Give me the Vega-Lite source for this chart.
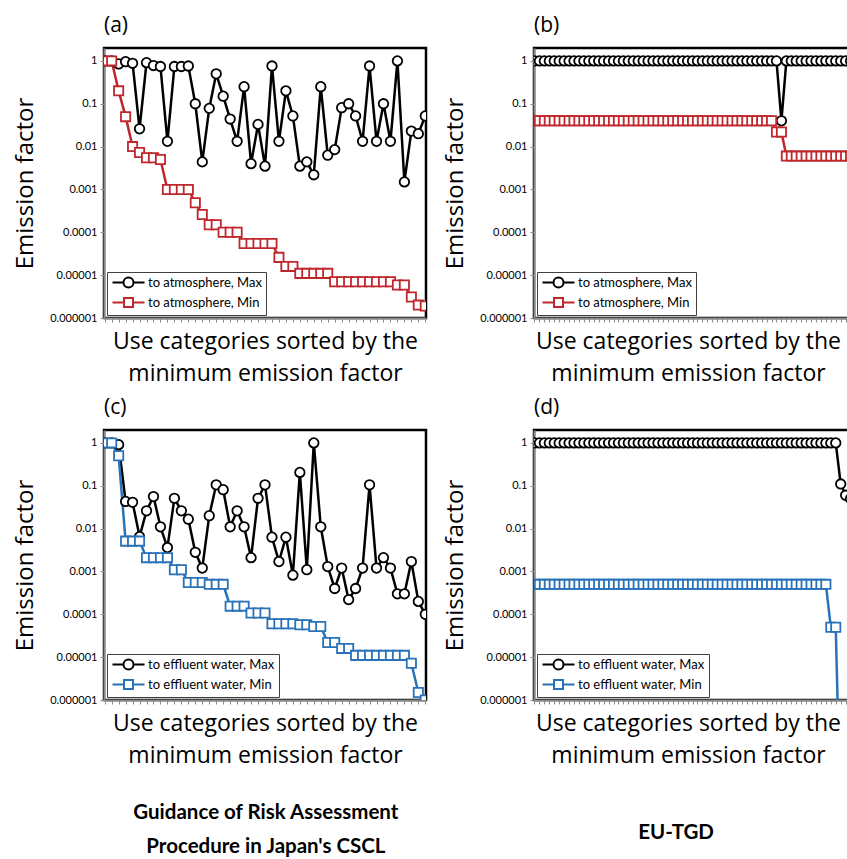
{
  "$schema": "https://vega.github.io/schema/vega-lite/v6.json",
  "padding": {"left": 12, "top": 13, "right": 0, "bottom": 6},
  "background": "white",
  "config": {
    "font": "Open Sans",
    "view": {"stroke": "black", "strokeWidth": 2.5},
    "axis": {"grid": false, "domainColor": "#8a8a8a", "domainWidth": 2, "tickColor": "#8a8a8a", "tickWidth": 1, "tickSize": 4, "labelColor": "black", "titleColor": "black", "labelFont": "Lato", "titleFont": "Open Sans", "titleFontWeight": "normal"},
    "axisX": {"labels": false, "titleFontSize": 23, "titleLineHeight": 32, "titlePadding": 8},
    "axisY": {"titleFontSize": 24, "labelFontSize": 11, "titlePadding": 12, "labelPadding": 3},
    "title": {"fontSize": 21, "fontWeight": "normal", "anchor": "start", "frame": "group", "offset": 12.5, "color": "black", "font": "Open Sans"},
    "legend": {"title": null, "orient": "bottom-left", "offset": 3, "padding": 4, "strokeColor": "#404040", "fillColor": "white", "labelFontSize": 13, "labelFont": "Lato", "labelColor": "black", "symbolSize": 100, "symbolStrokeWidth": 2, "labelOffset": 24, "rowPadding": 2}
  },
  "datasets": {
    "a": [
      {"i":1,"Max":1,"Min":1},{"i":2,"Max":1,"Min":1},{"i":3,"Max":0.85,"Min":0.2},{"i":4,"Max":0.96,"Min":0.05},{"i":5,"Max":0.88,"Min":0.01},
      {"i":6,"Max":0.026,"Min":0.0073},{"i":7,"Max":0.91,"Min":0.0055},{"i":8,"Max":0.78,"Min":0.0055},{"i":9,"Max":0.74,"Min":0.005},{"i":10,"Max":0.0133,"Min":0.001},
      {"i":11,"Max":0.74,"Min":0.001},{"i":12,"Max":0.74,"Min":0.001},{"i":13,"Max":0.76,"Min":0.001},{"i":14,"Max":0.1,"Min":0.00049},{"i":15,"Max":0.0044,"Min":0.00026},
      {"i":16,"Max":0.078,"Min":0.00015},{"i":17,"Max":0.5,"Min":0.00015},{"i":18,"Max":0.15,"Min":0.0001},{"i":19,"Max":0.044,"Min":0.0001},{"i":20,"Max":0.0133,"Min":0.0001},
      {"i":21,"Max":0.25,"Min":0.000055},{"i":22,"Max":0.004,"Min":0.000055},{"i":23,"Max":0.033,"Min":0.000055},{"i":24,"Max":0.0035,"Min":0.000055},{"i":25,"Max":0.76,"Min":0.000055},
      {"i":26,"Max":0.0133,"Min":0.000026},{"i":27,"Max":0.2,"Min":0.000016},{"i":28,"Max":0.052,"Min":0.000016},{"i":29,"Max":0.0035,"Min":0.000011},{"i":30,"Max":0.0044,"Min":0.000011},
      {"i":31,"Max":0.0022,"Min":0.000011},{"i":32,"Max":0.25,"Min":0.000011},{"i":33,"Max":0.0063,"Min":0.000011},{"i":34,"Max":0.0085,"Min":0.000007},{"i":35,"Max":0.081,"Min":0.000007},
      {"i":36,"Max":0.1,"Min":0.000007},{"i":37,"Max":0.052,"Min":0.000007},{"i":38,"Max":0.0133,"Min":0.000007},{"i":39,"Max":0.76,"Min":0.000007},{"i":40,"Max":0.0133,"Min":0.000007},
      {"i":41,"Max":0.1,"Min":0.000007},{"i":42,"Max":0.0133,"Min":0.000007},{"i":43,"Max":1,"Min":0.0000059},{"i":44,"Max":0.0015,"Min":0.0000059},{"i":45,"Max":0.023,"Min":0.0000031},
      {"i":46,"Max":0.02,"Min":0.000002},{"i":47,"Max":0.052,"Min":0.0000019}
    ],
    "c": [
      {"i":1,"Max":1,"Min":1},{"i":2,"Max":1,"Min":1},{"i":3,"Max":0.91,"Min":0.5},{"i":4,"Max":0.043,"Min":0.0051},{"i":5,"Max":0.041,"Min":0.0051},
      {"i":6,"Max":0.0065,"Min":0.0051},{"i":7,"Max":0.026,"Min":0.0021},{"i":8,"Max":0.056,"Min":0.0021},{"i":9,"Max":0.011,"Min":0.0021},{"i":10,"Max":0.0036,"Min":0.0021},
      {"i":11,"Max":0.051,"Min":0.0011},{"i":12,"Max":0.026,"Min":0.0011},{"i":13,"Max":0.0166,"Min":0.00055},{"i":14,"Max":0.0028,"Min":0.00055},{"i":15,"Max":0.0012,"Min":0.00055},
      {"i":16,"Max":0.02,"Min":0.0005},{"i":17,"Max":0.105,"Min":0.0005},{"i":18,"Max":0.081,"Min":0.0005},{"i":19,"Max":0.011,"Min":0.000155},{"i":20,"Max":0.026,"Min":0.000155},
      {"i":21,"Max":0.011,"Min":0.000155},{"i":22,"Max":0.0021,"Min":0.000107},{"i":23,"Max":0.051,"Min":0.000107},{"i":24,"Max":0.105,"Min":0.000107},{"i":25,"Max":0.0063,"Min":0.00006},
      {"i":26,"Max":0.0017,"Min":0.00006},{"i":27,"Max":0.0063,"Min":0.00006},{"i":28,"Max":0.00082,"Min":0.00006},{"i":29,"Max":0.205,"Min":0.000057},{"i":30,"Max":0.0011,"Min":0.000057},
      {"i":31,"Max":1,"Min":0.000052},{"i":32,"Max":0.011,"Min":0.000052},{"i":33,"Max":0.0013,"Min":0.000022},{"i":34,"Max":0.0004,"Min":0.000022},{"i":35,"Max":0.0012,"Min":0.000016},
      {"i":36,"Max":0.00022,"Min":0.000016},{"i":37,"Max":0.0004,"Min":0.000011},{"i":38,"Max":0.0012,"Min":0.000011},{"i":39,"Max":0.105,"Min":0.000011},{"i":40,"Max":0.0012,"Min":0.000011},
      {"i":41,"Max":0.0021,"Min":0.000011},{"i":42,"Max":0.0012,"Min":0.000011},{"i":43,"Max":0.0003,"Min":0.000011},{"i":44,"Max":0.0003,"Min":0.000011},{"i":45,"Max":0.0017,"Min":0.0000072},
      {"i":46,"Max":0.0002,"Min":0.0000015},{"i":47,"Max":0.0001,"Min":0.000001}
    ],
    "b": [
      {"i":1,"Max":1,"Min":0.04},{"i":2,"Max":1,"Min":0.04},{"i":3,"Max":1,"Min":0.04},{"i":4,"Max":1,"Min":0.04},{"i":5,"Max":1,"Min":0.04},
      {"i":6,"Max":1,"Min":0.04},{"i":7,"Max":1,"Min":0.04},{"i":8,"Max":1,"Min":0.04},{"i":9,"Max":1,"Min":0.04},{"i":10,"Max":1,"Min":0.04},
      {"i":11,"Max":1,"Min":0.04},{"i":12,"Max":1,"Min":0.04},{"i":13,"Max":1,"Min":0.04},{"i":14,"Max":1,"Min":0.04},{"i":15,"Max":1,"Min":0.04},
      {"i":16,"Max":1,"Min":0.04},{"i":17,"Max":1,"Min":0.04},{"i":18,"Max":1,"Min":0.04},{"i":19,"Max":1,"Min":0.04},{"i":20,"Max":1,"Min":0.04},
      {"i":21,"Max":1,"Min":0.04},{"i":22,"Max":1,"Min":0.04},{"i":23,"Max":1,"Min":0.04},{"i":24,"Max":1,"Min":0.04},{"i":25,"Max":1,"Min":0.04},
      {"i":26,"Max":1,"Min":0.04},{"i":27,"Max":1,"Min":0.04},{"i":28,"Max":1,"Min":0.04},{"i":29,"Max":1,"Min":0.04},{"i":30,"Max":1,"Min":0.04},
      {"i":31,"Max":1,"Min":0.04},{"i":32,"Max":1,"Min":0.04},{"i":33,"Max":1,"Min":0.04},{"i":34,"Max":1,"Min":0.04},{"i":35,"Max":1,"Min":0.04},
      {"i":36,"Max":1,"Min":0.04},{"i":37,"Max":1,"Min":0.04},{"i":38,"Max":1,"Min":0.04},{"i":39,"Max":1,"Min":0.04},{"i":40,"Max":1,"Min":0.04},
      {"i":41,"Max":1,"Min":0.04},{"i":42,"Max":1,"Min":0.04},{"i":43,"Max":1,"Min":0.04},{"i":44,"Max":1,"Min":0.04},{"i":45,"Max":1,"Min":0.04},
      {"i":46,"Max":1,"Min":0.04},{"i":47,"Max":1,"Min":0.04},{"i":48,"Max":1,"Min":0.04},{"i":49,"Max":1,"Min":0.04},{"i":50,"Max":1,"Min":0.022},
      {"i":51,"Max":0.04,"Min":0.022},{"i":52,"Max":1,"Min":0.006},{"i":53,"Max":1,"Min":0.006},{"i":54,"Max":1,"Min":0.006},{"i":55,"Max":1,"Min":0.006},
      {"i":56,"Max":1,"Min":0.006},{"i":57,"Max":1,"Min":0.006},{"i":58,"Max":1,"Min":0.006},{"i":59,"Max":1,"Min":0.006},{"i":60,"Max":1,"Min":0.006},
      {"i":61,"Max":1,"Min":0.006},{"i":62,"Max":1,"Min":0.006},{"i":63,"Max":1,"Min":0.006},{"i":64,"Max":1,"Min":0.006},{"i":65,"Max":1,"Min":0.006},
      {"i":66,"Max":1,"Min":0.006}
    ],
    "d": [
      {"i":1,"Max":1,"Min":0.0005},{"i":2,"Max":1,"Min":0.0005},{"i":3,"Max":1,"Min":0.0005},{"i":4,"Max":1,"Min":0.0005},{"i":5,"Max":1,"Min":0.0005},
      {"i":6,"Max":1,"Min":0.0005},{"i":7,"Max":1,"Min":0.0005},{"i":8,"Max":1,"Min":0.0005},{"i":9,"Max":1,"Min":0.0005},{"i":10,"Max":1,"Min":0.0005},
      {"i":11,"Max":1,"Min":0.0005},{"i":12,"Max":1,"Min":0.0005},{"i":13,"Max":1,"Min":0.0005},{"i":14,"Max":1,"Min":0.0005},{"i":15,"Max":1,"Min":0.0005},
      {"i":16,"Max":1,"Min":0.0005},{"i":17,"Max":1,"Min":0.0005},{"i":18,"Max":1,"Min":0.0005},{"i":19,"Max":1,"Min":0.0005},{"i":20,"Max":1,"Min":0.0005},
      {"i":21,"Max":1,"Min":0.0005},{"i":22,"Max":1,"Min":0.0005},{"i":23,"Max":1,"Min":0.0005},{"i":24,"Max":1,"Min":0.0005},{"i":25,"Max":1,"Min":0.0005},
      {"i":26,"Max":1,"Min":0.0005},{"i":27,"Max":1,"Min":0.0005},{"i":28,"Max":1,"Min":0.0005},{"i":29,"Max":1,"Min":0.0005},{"i":30,"Max":1,"Min":0.0005},
      {"i":31,"Max":1,"Min":0.0005},{"i":32,"Max":1,"Min":0.0005},{"i":33,"Max":1,"Min":0.0005},{"i":34,"Max":1,"Min":0.0005},{"i":35,"Max":1,"Min":0.0005},
      {"i":36,"Max":1,"Min":0.0005},{"i":37,"Max":1,"Min":0.0005},{"i":38,"Max":1,"Min":0.0005},{"i":39,"Max":1,"Min":0.0005},{"i":40,"Max":1,"Min":0.0005},
      {"i":41,"Max":1,"Min":0.0005},{"i":42,"Max":1,"Min":0.0005},{"i":43,"Max":1,"Min":0.0005},{"i":44,"Max":1,"Min":0.0005},{"i":45,"Max":1,"Min":0.0005},
      {"i":46,"Max":1,"Min":0.0005},{"i":47,"Max":1,"Min":0.0005},{"i":48,"Max":1,"Min":0.0005},{"i":49,"Max":1,"Min":0.0005},{"i":50,"Max":1,"Min":0.0005},
      {"i":51,"Max":1,"Min":0.0005},{"i":52,"Max":1,"Min":0.0005},{"i":53,"Max":1,"Min":0.0005},{"i":54,"Max":1,"Min":0.0005},{"i":55,"Max":1,"Min":0.0005},
      {"i":56,"Max":1,"Min":0.0005},{"i":57,"Max":1,"Min":0.0005},{"i":58,"Max":1,"Min":0.0005},{"i":59,"Max":1,"Min":0.0005},{"i":60,"Max":1,"Min":0.0005},
      {"i":61,"Max":1,"Min":0.00005},{"i":62,"Max":1,"Min":0.00005},{"i":63,"Max":0.11,"Min":0.000000001},{"i":64,"Max":0.06,"Min":0.000000001},{"i":65,"Max":0.05,"Min":0.000000001},
      {"i":66,"Max":0.05,"Min":0.000000001}
    ]
  },
  "spacing": 14,
  "resolve": {"scale": {"color": "independent", "x": "independent", "y": "independent"}, "legend": {"color": "independent"}},
  "hconcat": [
    {
      "spacing": 8,
      "resolve": {"scale": {"color": "independent", "x": "independent", "y": "independent"}, "legend": {"color": "independent"}},
      "title": {"text": ["Guidance of Risk Assessment", "Procedure in Japan's CSCL"], "orient": "bottom", "anchor": "middle", "frame": "bounds", "font": "Lato", "fontSize": 20.5, "fontWeight": "bold", "offset": 34, "lineHeight": 34, "dx": 46},
      "vconcat": [
        {
          "width": 322, "height": 270,
          "title": {"text": "(a)"},
          "data": {"name": "a"},
          "transform": [{"fold": ["Max", "Min"], "as": ["s", "v"]}],
          "encoding": {
            "x": {"field": "i", "type": "ordinal", "scale": {"type": "point", "padding": 0.1}, "axis": {"title": ["Use categories sorted by the", "minimum emission factor"]}},
            "y": {"field": "v", "type": "quantitative", "scale": {"type": "log", "domain": [0.000001, 2]}, "axis": {"title": "Emission factor", "values": [1, 0.1, 0.01, 0.001, 0.0001, 0.00001, 0.000001], "format": "~f"}},
            "color": {"field": "s", "type": "nominal", "scale": {"domain": ["Max", "Min"], "range": ["#000000", "#c0272d"]},
              "legend": {"labelExpr": "'to atmosphere, ' + datum.label",
                "encode": {"symbols": {"update": {"shape": {"signal": "datum.value == 'Max' ? 'M-1,0L1.2,0M3.2,0L5.4,0M1.2,0A1,1,0,1,1,3.2,0A1,1,0,1,1,1.2,0Z' : 'M-1,0L1.3,0M3.1,0L5.4,0M1.3,-0.9L3.1,-0.9L3.1,0.9L1.3,0.9Z'"}, "fill": {"value": "white"}}}}}}
          },
          "layer": [
            {"mark": {"type": "line", "strokeWidth": 2.5, "clip": true}},
            {"transform": [{"filter": "datum.s == 'Max'"}], "mark": {"type": "point", "shape": "circle", "filled": false, "fill": "white", "fillOpacity": 1, "opacity": 1, "strokeWidth": 1.8, "size": 90, "clip": true}},
            {"transform": [{"filter": "datum.s == 'Min'"}], "mark": {"type": "point", "shape": "square", "filled": false, "fill": "white", "fillOpacity": 1, "opacity": 1, "strokeWidth": 1.8, "size": 85, "clip": true}}
          ]
        },
        {
          "width": 322, "height": 270,
          "title": {"text": "(c)"},
          "data": {"name": "c"},
          "transform": [{"fold": ["Max", "Min"], "as": ["s", "v"]}],
          "encoding": {
            "x": {"field": "i", "type": "ordinal", "scale": {"type": "point", "padding": 0.1}, "axis": {"title": ["Use categories sorted by the", "minimum emission factor"]}},
            "y": {"field": "v", "type": "quantitative", "scale": {"type": "log", "domain": [0.000001, 2]}, "axis": {"title": "Emission factor", "values": [1, 0.1, 0.01, 0.001, 0.0001, 0.00001, 0.000001], "format": "~f"}},
            "color": {"field": "s", "type": "nominal", "scale": {"domain": ["Max", "Min"], "range": ["#000000", "#2a72b8"]},
              "legend": {"labelExpr": "'to effluent water, ' + datum.label",
                "encode": {"symbols": {"update": {"shape": {"signal": "datum.value == 'Max' ? 'M-1,0L1.2,0M3.2,0L5.4,0M1.2,0A1,1,0,1,1,3.2,0A1,1,0,1,1,1.2,0Z' : 'M-1,0L1.3,0M3.1,0L5.4,0M1.3,-0.9L3.1,-0.9L3.1,0.9L1.3,0.9Z'"}, "fill": {"value": "white"}}}}}}
          },
          "layer": [
            {"mark": {"type": "line", "strokeWidth": 2.5, "clip": true}},
            {"transform": [{"filter": "datum.s == 'Max'"}], "mark": {"type": "point", "shape": "circle", "filled": false, "fill": "white", "fillOpacity": 1, "opacity": 1, "strokeWidth": 1.8, "size": 90, "clip": true}},
            {"transform": [{"filter": "datum.s == 'Min'"}], "mark": {"type": "point", "shape": "square", "filled": false, "fill": "white", "fillOpacity": 1, "opacity": 1, "strokeWidth": 1.8, "size": 85, "clip": true}}
          ]
        }
      ]
    },
    {
      "spacing": 8,
      "resolve": {"scale": {"color": "independent", "x": "independent", "y": "independent"}, "legend": {"color": "independent"}},
      "title": {"text": "EU-TGD", "orient": "bottom", "anchor": "middle", "frame": "bounds", "font": "Lato", "fontSize": 20.5, "fontWeight": "bold", "offset": 54, "dx": 26},
      "vconcat": [
        {
          "width": 322, "height": 270,
          "title": {"text": "(b)"},
          "data": {"name": "b"},
          "transform": [{"fold": ["Max", "Min"], "as": ["s", "v"]}],
          "encoding": {
            "x": {"field": "i", "type": "ordinal", "scale": {"type": "point", "padding": 0.1}, "axis": {"title": ["Use categories sorted by the", "minimum emission factor"], "titleX": 154}},
            "y": {"field": "v", "type": "quantitative", "scale": {"type": "log", "domain": [0.000001, 2]}, "axis": {"title": "Emission factor", "values": [1, 0.1, 0.01, 0.001, 0.0001, 0.00001, 0.000001], "format": "~f"}},
            "color": {"field": "s", "type": "nominal", "scale": {"domain": ["Max", "Min"], "range": ["#000000", "#c0272d"]},
              "legend": {"labelExpr": "'to atmosphere, ' + datum.label",
                "encode": {"symbols": {"update": {"shape": {"signal": "datum.value == 'Max' ? 'M-1,0L1.2,0M3.2,0L5.4,0M1.2,0A1,1,0,1,1,3.2,0A1,1,0,1,1,1.2,0Z' : 'M-1,0L1.3,0M3.1,0L5.4,0M1.3,-0.9L3.1,-0.9L3.1,0.9L1.3,0.9Z'"}, "fill": {"value": "white"}}}}}}
          },
          "layer": [
            {"mark": {"type": "line", "strokeWidth": 2.5, "clip": true}},
            {"transform": [{"filter": "datum.s == 'Max'"}], "mark": {"type": "point", "shape": "circle", "filled": false, "fill": "white", "fillOpacity": 1, "opacity": 1, "strokeWidth": 1.8, "size": 90, "clip": true}},
            {"transform": [{"filter": "datum.s == 'Min'"}], "mark": {"type": "point", "shape": "square", "filled": false, "fill": "white", "fillOpacity": 1, "opacity": 1, "strokeWidth": 1.8, "size": 85, "clip": true}}
          ]
        },
        {
          "width": 322, "height": 270,
          "title": {"text": "(d)"},
          "data": {"name": "d"},
          "transform": [{"fold": ["Max", "Min"], "as": ["s", "v"]}],
          "encoding": {
            "x": {"field": "i", "type": "ordinal", "scale": {"type": "point", "padding": 0.1}, "axis": {"title": ["Use categories sorted by the", "minimum emission factor"], "titleX": 154}},
            "y": {"field": "v", "type": "quantitative", "scale": {"type": "log", "domain": [0.000001, 2]}, "axis": {"title": "Emission factor", "values": [1, 0.1, 0.01, 0.001, 0.0001, 0.00001, 0.000001], "format": "~f"}},
            "color": {"field": "s", "type": "nominal", "scale": {"domain": ["Max", "Min"], "range": ["#000000", "#2a72b8"]},
              "legend": {"labelExpr": "'to effluent water, ' + datum.label",
                "encode": {"symbols": {"update": {"shape": {"signal": "datum.value == 'Max' ? 'M-1,0L1.2,0M3.2,0L5.4,0M1.2,0A1,1,0,1,1,3.2,0A1,1,0,1,1,1.2,0Z' : 'M-1,0L1.3,0M3.1,0L5.4,0M1.3,-0.9L3.1,-0.9L3.1,0.9L1.3,0.9Z'"}, "fill": {"value": "white"}}}}}}
          },
          "layer": [
            {"mark": {"type": "line", "strokeWidth": 2.5, "clip": true}},
            {"transform": [{"filter": "datum.s == 'Max'"}], "mark": {"type": "point", "shape": "circle", "filled": false, "fill": "white", "fillOpacity": 1, "opacity": 1, "strokeWidth": 1.8, "size": 90, "clip": true}},
            {"transform": [{"filter": "datum.s == 'Min'"}], "mark": {"type": "point", "shape": "square", "filled": false, "fill": "white", "fillOpacity": 1, "opacity": 1, "strokeWidth": 1.8, "size": 85, "clip": true}}
          ]
        }
      ]
    }
  ]
}
